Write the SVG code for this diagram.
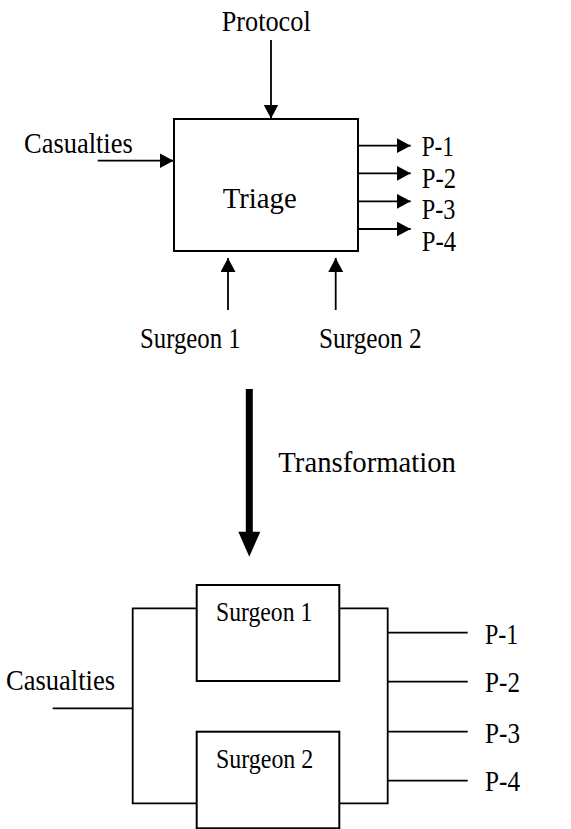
<svg xmlns="http://www.w3.org/2000/svg" width="571" height="829" viewBox="0 0 571 829">
<style>
text{font-family:"Liberation Serif","Times New Roman",serif;fill:#000}
.l{font-size:29px}
.s{font-size:27px}
.ln{stroke:#000;stroke-width:1.8;fill:none}
.box{stroke:#000;stroke-width:2;fill:#fff}
</style>
<defs>
<marker id="ah" markerUnits="userSpaceOnUse" markerWidth="16" markerHeight="16" refX="14" refY="7.5" orient="auto">
<path d="M0,0 L14,7.5 L0,15 z" fill="#000"/>
</marker>
</defs>
<rect width="571" height="829" fill="#fff"/>
<g id="triage">
<rect class="box" x="174" y="119" width="184" height="132"/>
<text class="l" x="222.7" y="208.3" font-size="32" textLength="74" lengthAdjust="spacingAndGlyphs">Triage</text>
</g>
<g id="labels-top">
<text class="l" x="221.7" y="30.7" textLength="89" lengthAdjust="spacingAndGlyphs">Protocol</text>
<text class="l" x="24" y="152.7" textLength="108.7" lengthAdjust="spacingAndGlyphs">Casualties</text>
<text class="l" x="421.7" y="155.7" textLength="32.3" lengthAdjust="spacingAndGlyphs">P-1</text>
<text class="l" x="421.7" y="187.7" textLength="34.3" lengthAdjust="spacingAndGlyphs">P-2</text>
<text class="l" x="421.7" y="219.3" textLength="33.7" lengthAdjust="spacingAndGlyphs">P-3</text>
<text class="l" x="421.7" y="250.7" textLength="34.3" lengthAdjust="spacingAndGlyphs">P-4</text>
<text class="l" x="140" y="348.3" textLength="100.7" lengthAdjust="spacingAndGlyphs">Surgeon 1</text>
<text class="l" x="319" y="348.3" textLength="102.7" lengthAdjust="spacingAndGlyphs">Surgeon 2</text>
<text class="l" x="278.3" y="471.7" font-size="31" textLength="177.7" lengthAdjust="spacingAndGlyphs">Transformation</text>
</g>
<g id="surgeon1">
<rect class="box" x="196.7" y="585" width="142.6" height="96"/>
<text class="s" x="216" y="620.7" textLength="96.3" lengthAdjust="spacingAndGlyphs">Surgeon 1</text>
</g>
<g id="surgeon2">
<rect class="box" x="196.7" y="731.7" width="142.6" height="96.6"/>
<text class="s" x="216" y="768.3" textLength="97.3" lengthAdjust="spacingAndGlyphs">Surgeon 2</text>
</g>
<g id="labels-bottom">
<text class="l" x="6" y="690" textLength="109" lengthAdjust="spacingAndGlyphs">Casualties</text>
<text class="l" x="485" y="644" textLength="33.3" lengthAdjust="spacingAndGlyphs">P-1</text>
<text class="l" x="485" y="692.3" textLength="35" lengthAdjust="spacingAndGlyphs">P-2</text>
<text class="l" x="485" y="742.7" textLength="35" lengthAdjust="spacingAndGlyphs">P-3</text>
<text class="l" x="485" y="791" textLength="35" lengthAdjust="spacingAndGlyphs">P-4</text>
</g>
<g id="connectors">
<line class="ln" x1="271" y1="40" x2="271" y2="118.5" marker-end="url(#ah)"/>
<line class="ln" x1="97.7" y1="160.7" x2="173.5" y2="160.7" marker-end="url(#ah)"/>
<line class="ln" x1="358" y1="145.7" x2="410.7" y2="145.7" marker-end="url(#ah)"/>
<line class="ln" x1="358" y1="173.3" x2="410.7" y2="173.3" marker-end="url(#ah)"/>
<line class="ln" x1="358" y1="201.3" x2="410.7" y2="201.3" marker-end="url(#ah)"/>
<line class="ln" x1="358" y1="229" x2="410.7" y2="229" marker-end="url(#ah)"/>
<line class="ln" x1="228" y1="310" x2="228" y2="258" marker-end="url(#ah)"/>
<line class="ln" x1="335.7" y1="310" x2="335.7" y2="258" marker-end="url(#ah)"/>
<line x1="249.3" y1="389" x2="249.3" y2="533" stroke="#000" stroke-width="7"/>
<polygon points="238.3,531.7 260.3,531.7 249.3,556.7" fill="#000"/>
<polyline class="ln" points="196.7,608.3 132.7,608.3 132.7,803.3 196.7,803.3"/>
<line class="ln" x1="52.7" y1="708.3" x2="132.7" y2="708.3"/>
<polyline class="ln" points="339.3,608.3 387.7,608.3 387.7,803.3 339.3,803.3"/>
<line class="ln" x1="387.7" y1="632.7" x2="467.7" y2="632.7"/>
<line class="ln" x1="387.7" y1="681.7" x2="467.7" y2="681.7"/>
<line class="ln" x1="387.7" y1="731.7" x2="467.7" y2="731.7"/>
<line class="ln" x1="387.7" y1="780.7" x2="467.7" y2="780.7"/>
</g>
</svg>
